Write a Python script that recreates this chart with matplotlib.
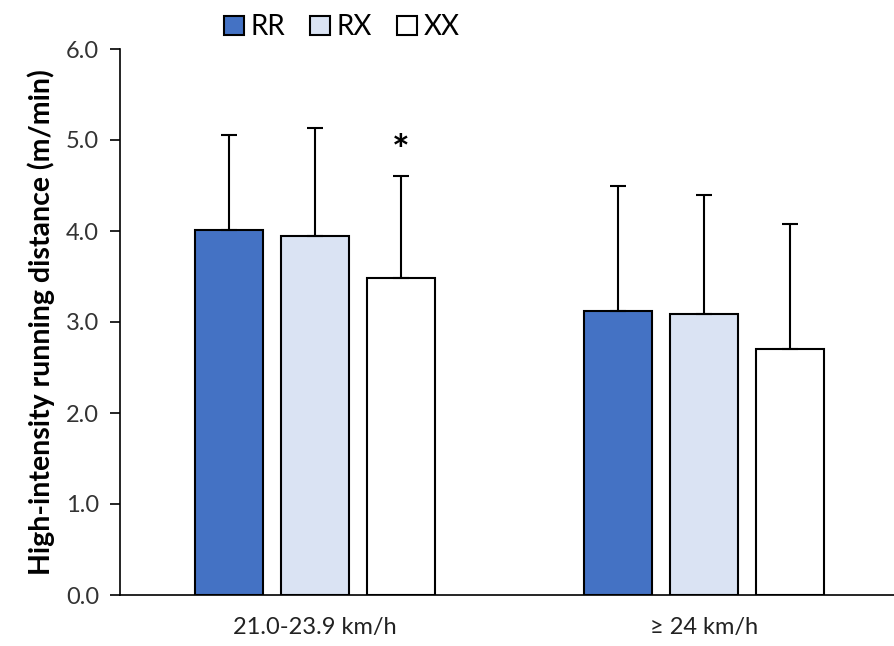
import matplotlib
matplotlib.use("Agg")
import matplotlib.pyplot as plt
import numpy as np
from matplotlib.patches import Patch

plt.rcParams['font.family'] = ['Lato', 'DejaVu Sans']

categories = ["21.0-23.9 km/h", "\u2265 24 km/h"]
series = ["RR", "RX", "XX"]
means = {"RR": [4.01, 3.12], "RX": [3.95, 3.09], "XX": [3.48, 2.70]}
sds = {"RR": [1.05, 1.38], "RX": [1.18, 1.31], "XX": [1.12, 1.38]}
colors = {"RR": "#4472C4", "RX": "#DAE3F3", "XX": "#FFFFFF"}
yticks = [0.0, 1.0, 2.0, 3.0, 4.0, 5.0, 6.0]

fig = plt.figure(figsize=(8.95, 6.46), dpi=100)
ax = fig.add_axes([120/895, 51/646, (895-120)/895, 546/646])

x = np.arange(len(categories))
width = 0.175
step = 0.221
for i, s in enumerate(series):
    xs = x + (i - 1) * step
    ax.bar(xs, means[s], width, color=colors[s], edgecolor="black", linewidth=1.5,
           yerr=[np.zeros(len(x)), sds[s]], capsize=6,
           error_kw=dict(ecolor="black", elinewidth=1.5, capthick=1.5), zorder=2)

# significance marker
ax.text(x[0] + step, means["XX"][0] + sds["XX"][0] + 0.05, "*", ha="center", va="bottom",
        fontsize=30, fontweight="bold")

ax.set_xlim(-0.5013, 1.491)
ax.set_ylim(0, 6)
ax.set_yticks(yticks)
ax.set_yticklabels([f"{t:.1f}" for t in yticks], fontsize=17, color="#333333")
ax.set_xticks(x)
ax.set_xticklabels(categories, fontsize=17, color="#222222")
ax.tick_params(axis="x", length=0, pad=16)
ax.tick_params(axis="y", length=7, width=1.2, direction="out", pad=8)
for sp in ["top", "right"]:
    ax.spines[sp].set_visible(False)
ax.spines["left"].set_linewidth(1.2)
ax.spines["bottom"].set_linewidth(1.2)
ax.set_ylabel("High-intensity running distance (m/min)", fontsize=20.5, fontweight="bold", labelpad=8)

handles = [Patch(facecolor=colors[s], edgecolor="black", linewidth=1.5, label=s) for s in series]
fig.legend(handles=handles, loc="center", bbox_to_anchor=(342/895, 1 - 27/646), ncol=3,
           frameon=False, fontsize=20, handlelength=0.7, handleheight=0.7,
           handletextpad=0.25, columnspacing=0.9)

fig.savefig("out.png", dpi=100)
